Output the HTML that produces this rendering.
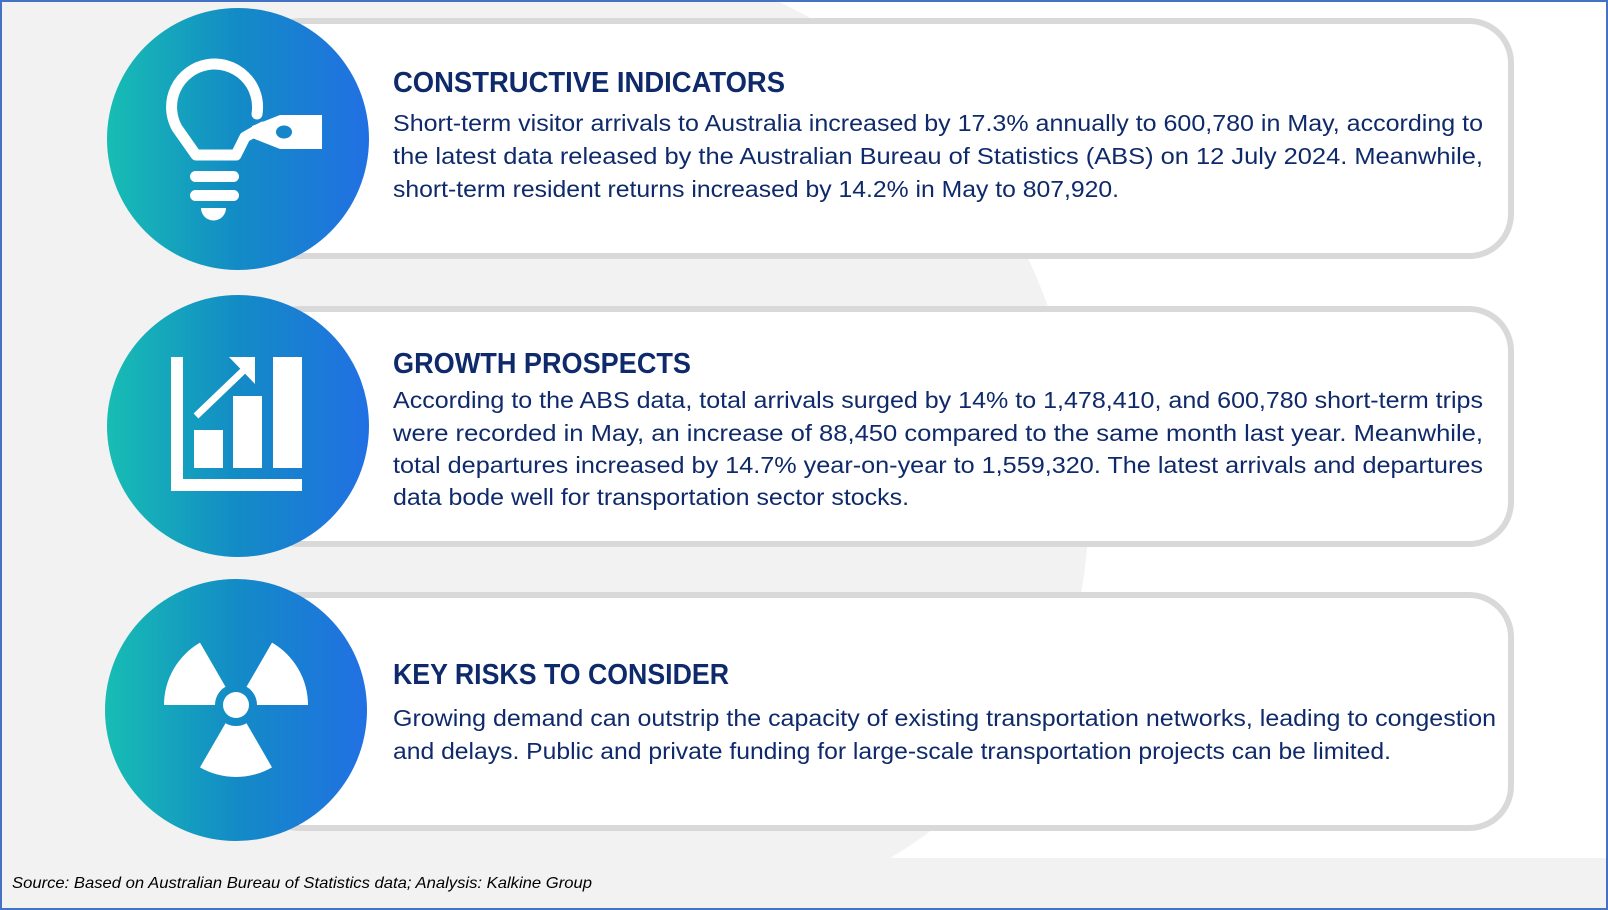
<!DOCTYPE html>
<html><head><meta charset="utf-8"><style>
html,body{margin:0;padding:0;background:#fff;}
svg{display:block;}
text{font-family:"Liberation Sans",sans-serif;fill:#0f2a6b;}
</style></head><body>
<svg width="1608" height="910" viewBox="0 0 1608 910" xmlns="http://www.w3.org/2000/svg">
<defs>
<linearGradient id="g" x1="0" x2="1" y1="0" y2="0">
<stop offset="0" stop-color="#17bdb3"/><stop offset="0.5" stop-color="#138bc6"/><stop offset="1" stop-color="#2170e3"/>
</linearGradient>
</defs>
<rect x="0" y="0" width="1608" height="910" fill="#ffffff"/>
<path d="M0,0 L775,0 C970,90 1080,290 1088,520 C1088,680 990,800 890,858 L0,858 Z" fill="#f2f2f2"/>
<rect x="0" y="858" width="1608" height="52" fill="#f2f2f2"/>
<rect x="1" y="1" width="1606" height="908" fill="none" stroke="#4472c4" stroke-width="2"/>

<rect x="258" y="21" width="1253" height="235" rx="42" fill="#fff" stroke="#d9d9d9" stroke-width="6"/>
<rect x="258" y="309" width="1253" height="235" rx="42" fill="#fff" stroke="#d9d9d9" stroke-width="6"/>
<rect x="258" y="595" width="1253" height="233" rx="42" fill="#fff" stroke="#d9d9d9" stroke-width="6"/>

<circle cx="238" cy="139" r="131" fill="url(#g)"/>
<circle cx="238" cy="426" r="131" fill="url(#g)"/>
<circle cx="236" cy="710" r="131" fill="url(#g)"/>

<g fill="none" stroke="#fff" stroke-width="11" stroke-linecap="round" stroke-linejoin="round">
<path d="M257,114 A43,43 0 1 0 177,128 L196,155 L236,155 L245,137 L263,127"/>
</g>
<g fill="#fff">
<path d="M252,126 L280,115 L322,115 L322,149 L280,149 L252,138 Z"/>
<ellipse cx="284" cy="132" rx="8" ry="6.5" fill="#1686cb"/>
<rect x="190" y="171" width="49" height="11" rx="5.5"/>
<rect x="190" y="190" width="49" height="11" rx="5.5"/>
<path d="M201,208 L226,208 A12.5,12.5 0 0 1 201,208 Z"/>
</g>

<g fill="#fff">
<rect x="171" y="357" width="12" height="134"/>
<rect x="171" y="479" width="131" height="12"/>
<rect x="194" y="430" width="29" height="38"/>
<rect x="233" y="396" width="29" height="72"/>
<rect x="273" y="357" width="29" height="111"/>
<path d="M229,357 L255,357 L255,384 Z"/>
</g>
<line x1="196" y1="416" x2="244" y2="370" stroke="#fff" stroke-width="7"/>

<g fill="#fff" transform="translate(236,705)">
<circle r="13"/>
<path d="M-72,0 A72,72 0 0 1 -36,-62.35 L-10.5,-18.2 A21,21 0 0 0 -21,0 Z"/>
<path d="M72,0 A72,72 0 0 0 36,-62.35 L10.5,-18.2 A21,21 0 0 1 21,0 Z"/>
<path d="M-36,62.35 A72,72 0 0 0 36,62.35 L10.5,18.2 A21,21 0 0 1 -10.5,18.2 Z"/>
</g>

<text x="393" y="92" font-size="29" font-weight="bold" textLength="392" lengthAdjust="spacingAndGlyphs">CONSTRUCTIVE INDICATORS</text>
<g font-size="23">
<text x="393" y="131" textLength="1090" lengthAdjust="spacingAndGlyphs">Short-term visitor arrivals to Australia increased by 17.3% annually to 600,780 in May, according to</text>
<text x="393" y="164" textLength="1090" lengthAdjust="spacingAndGlyphs">the latest data released by the Australian Bureau of Statistics (ABS) on 12 July 2024. Meanwhile,</text>
<text x="393" y="197" textLength="726" lengthAdjust="spacingAndGlyphs">short-term resident returns increased by 14.2% in May to 807,920.</text>
</g>

<text x="393" y="373" font-size="29" font-weight="bold" textLength="298" lengthAdjust="spacingAndGlyphs">GROWTH PROSPECTS</text>
<g font-size="23">
<text x="393" y="408" textLength="1090" lengthAdjust="spacingAndGlyphs">According to the ABS data, total arrivals surged by 14% to 1,478,410, and 600,780 short-term trips</text>
<text x="393" y="441" textLength="1090" lengthAdjust="spacingAndGlyphs">were recorded in May, an increase of 88,450 compared to the same month last year. Meanwhile,</text>
<text x="393" y="473" textLength="1090" lengthAdjust="spacingAndGlyphs">total departures increased by 14.7% year-on-year to 1,559,320. The latest arrivals and departures</text>
<text x="393" y="505" textLength="516" lengthAdjust="spacingAndGlyphs">data bode well for transportation sector stocks.</text>
</g>

<text x="393" y="684" font-size="29" font-weight="bold" textLength="336" lengthAdjust="spacingAndGlyphs">KEY RISKS TO CONSIDER</text>
<g font-size="23">
<text x="393" y="726" textLength="1103" lengthAdjust="spacingAndGlyphs">Growing demand can outstrip the capacity of existing transportation networks, leading to congestion</text>
<text x="393" y="759" textLength="998" lengthAdjust="spacingAndGlyphs">and delays. Public and private funding for large-scale transportation projects can be limited.</text>
</g>

<text x="12" y="888" font-size="16" font-style="italic" style="fill:#000" textLength="580" lengthAdjust="spacingAndGlyphs">Source: Based on Australian Bureau of Statistics data; Analysis: Kalkine Group</text>
</svg>
</body></html>
